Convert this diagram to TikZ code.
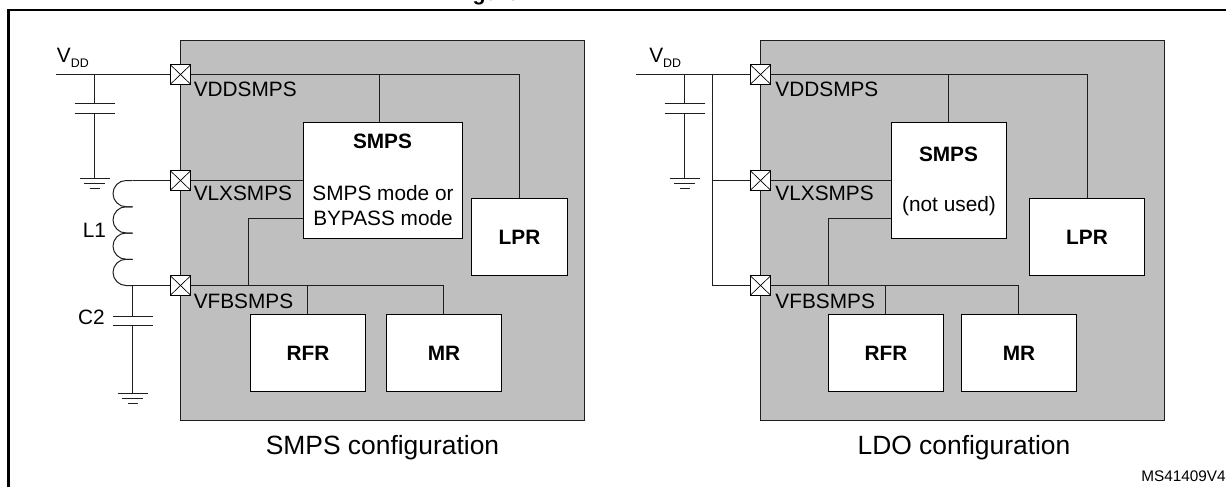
\documentclass[tikz,border=0pt]{standalone}
\usepackage{fontspec}
\setmainfont{Liberation Sans}
\definecolor{chipgray}{HTML}{BFBFBF}
\definecolor{wirecol}{HTML}{1E1E1E}
\newcommand{\lab}{\fontsize{15.6}{17}\selectfont}
\newcommand{\bigfnt}{\fontsize{19.8}{22}\selectfont}
\tikzset{
  chip/.style={draw=wirecol,fill=chipgray,line width=0.8pt,minimum width=303pt,minimum height=285pt,inner sep=0pt},
  block/.style 2 args={draw=black,fill=white,line width=0.8pt,minimum width=#1*0.75pt,minimum height=#2*0.75pt,inner sep=0pt},
  pad/.style={draw=black,fill=white,line width=0.8pt,minimum width=15pt,minimum height=14.4pt,inner sep=0pt,
    path picture={\draw[line width=0.5pt] (path picture bounding box.south west) -- (path picture bounding box.north east)
      (path picture bounding box.north west) -- (path picture bounding box.south east);}},
  wire/.style={draw=wirecol,line width=0.75pt},
  txt/.style={inner sep=0pt,font=\lab},
  pinlabel/.style={inner sep=0pt,anchor=west,font=\lab},
  capline/.style={inner sep=0pt,font=\bigfnt}
}
\newcommand{\gnd}[1]{
\draw[wire] (#1) +(-15,0) -- +(15,0);
\draw[wire] (#1) +(-10.5,5) -- +(10.5,5);
\draw[wire] (#1) +(-5,10) -- +(5,10);
}
\newcommand{\plates}[2]{
\draw[wire] (#1) +(-20,0) -- +(20,0);
\draw[wire] (#2) +(-20,0) -- +(20,0);
}
\begin{document}
\begin{tikzpicture}[x=0.75pt,y=-0.75pt]
\useasboundingbox (0,0) rectangle (1226,487);
\coordinate (framea) at (8.5,487);
\coordinate (frameb) at (8.5,10);
\coordinate (framec) at (1226,10);
\draw[line width=1.9pt,miter limit=2] (framea) -- (frameb) -- (framec);
\node (figtitle) [anchor=base west,inner sep=0pt,font=\fontsize{16}{16}\selectfont\bfseries] at (453.5,0) {Figure};

% SMPS configuration
\node (chipa) [chip] at (382.5,230.5) {};
\coordinate (vdda) at (55.5,74.5);
\node (pada) [pad] at (180.5,74.5) {};
\node (padb) [pad] at (180.5,180.5) {};
\node (padc) [pad] at (180.5,285.5) {};
\node (smpsa) [block={159}{116}] at (383,180.5) {};
\node (lpra) [block={96}{77}] at (519.5,237) {};
\node (rfra) [block={115}{77}] at (308,353) {};
\node (mra) [block={115}{77}] at (444,353) {};
\coordinate (ja) at (94.5,74.5);
\coordinate (jb) at (379.5,74.5);
\coordinate (jc) at (519.5,74.5);
\coordinate (jd) at (248.5,218.5);
\coordinate (je) at (248.5,285.5);
\coordinate (jf) at (307.5,285.5);
\coordinate (jg) at (443.5,285.5);
\coordinate (jh) at (132.5,285.5);
\coordinate (capat) at (94.5,103.5);
\coordinate (capab) at (94.5,113.5);
\coordinate (gnda) at (94.5,178.5);
\coordinate (capbt) at (132.5,316.5);
\coordinate (capbb) at (132.5,325.5);
\coordinate (gndb) at (132.5,393.5);
\coordinate (coila) at (132.5,180.5);
\draw[wire] (vdda) -- (pada);
\draw[wire] (pada) -- (jc) -- (jc |- lpra.north);
\draw[wire] (jb) -- (jb |- smpsa.north);
\draw[wire] (padb) -- (padb -| smpsa.west);
\draw[wire] (smpsa.west |- jd) -- (jd) -- (je);
\draw[wire] (padc) -- (jg) -- (jg |- mra.north);
\draw[wire] (jf) -- (jf |- rfra.north);
\draw[wire] (ja) -- (capat);
\draw[wire] (capab) -- (gnda);
\draw[wire] (padc) -- (jh) -- (capbt);
\draw[wire] (capbb) -- (gndb);
\plates{capat}{capab}
\plates{capbt}{capbb}
\gnd{gnda}
\gnd{gndb}
\draw[wire] (padb) -- (coila);
\foreach \y in {180.5,206.75,233,259.25}
\draw[wire] (132.5,\y) -- (126,\y) .. controls (118.8,\y+0) and (113,\y+6) .. (113,\y+13.1)
  .. controls (113,\y+20.2) and (118.8,\y+26.25) .. (126,\y+26.25) -- (132.5,\y+26.25);
\node (vddla) [pinlabel] at (56.7,58) {V\raisebox{-3.5pt}{\fontsize{9.3}{10}\selectfont DD}};
\node (pinla) [pinlabel] at (193.5,89) {VDDSMPS};
\node (pinlb) [pinlabel] at (193.5,193) {VLXSMPS};
\node (pinlc) [pinlabel] at (193.5,301) {VFBSMPS};
\node (labla) [txt] at (94.4,230) {L1};
\node (lablb) [txt] at (91.5,317) {C2};
\node (smpsta) [txt,font=\lab\bfseries] at (382.5,141) {SMPS};
\node (smpsma) [txt] at (383,193) {SMPS mode or};
\node (smpsmb) [txt] at (383,218) {BYPASS mode};
\node (lprta) [txt,font=\lab\bfseries] at (lpra) {LPR};
\node (rfrta) [txt,font=\lab\bfseries] at (rfra) {RFR};
\node (mrta) [txt,font=\lab\bfseries] at (mra) {MR};
\node (capta) [capline] at (382.5,448) {SMPS configuration};

% LDO configuration
\node (chipb) [chip] at (962.5,230.5) {};
\coordinate (vddb) at (635.5,74.5);
\node (padd) [pad] at (760.5,74.5) {};
\node (pade) [pad] at (760.5,180.5) {};
\node (padf) [pad] at (760.5,285.5) {};
\node (smpsb) [block={115}{116}] at (949,180.5) {};
\node (lprb) [block={115}{77}] at (1087,237) {};
\node (rfrb) [block={115}{77}] at (886,353) {};
\node (mrb) [block={115}{77}] at (1019,353) {};
\coordinate (ka) at (684.5,74.5);
\coordinate (kb) at (712.5,74.5);
\coordinate (kc) at (712.5,180.5);
\coordinate (kd) at (712.5,285.5);
\coordinate (ke) at (948.5,74.5);
\coordinate (kf) at (1087.5,74.5);
\coordinate (kg) at (828.5,218.5);
\coordinate (kh) at (828.5,285.5);
\coordinate (ki) at (885.5,285.5);
\coordinate (kj) at (1018.5,285.5);
\coordinate (capct) at (684.5,103.5);
\coordinate (capcb) at (684.5,113.5);
\coordinate (gndc) at (684.5,178.5);
\draw[wire] (vddb) -- (padd);
\draw[wire] (padd) -- (kf) -- (kf |- lprb.north);
\draw[wire] (ke) -- (ke |- smpsb.north);
\draw[wire] (kb) -- (kd) -- (padf);
\draw[wire] (kc) -- (pade);
\draw[wire] (pade) -- (pade -| smpsb.west);
\draw[wire] (smpsb.west |- kg) -- (kg) -- (kh);
\draw[wire] (padf) -- (kj) -- (kj |- mrb.north);
\draw[wire] (ki) -- (ki |- rfrb.north);
\draw[wire] (ka) -- (capct);
\draw[wire] (capcb) -- (gndc);
\plates{capct}{capcb}
\gnd{gndc}
\node (vddlb) [pinlabel] at (649,58) {V\raisebox{-3.5pt}{\fontsize{9.3}{10}\selectfont DD}};
\node (pinld) [pinlabel] at (775.2,89) {VDDSMPS};
\node (pinle) [pinlabel] at (775.2,193) {VLXSMPS};
\node (pinlf) [pinlabel] at (775.2,301) {VFBSMPS};
\node (smpstb) [txt,font=\lab\bfseries] at (948.5,154) {SMPS};
\node (smpsmc) [txt] at (949,205.7) {(not used)};
\node (lprtb) [txt,font=\lab\bfseries] at (lprb) {LPR};
\node (rfrtb) [txt,font=\lab\bfseries] at (rfrb) {RFR};
\node (mrtb) [txt,font=\lab\bfseries] at (mrb) {MR};
\node (captb) [capline] at (964,448) {LDO configuration};
\node (refid) [inner sep=0pt,anchor=east,font=\fontsize{11.5}{12}\selectfont] at (1226,476.7) {MS41409V4};
\end{tikzpicture}
\end{document}
